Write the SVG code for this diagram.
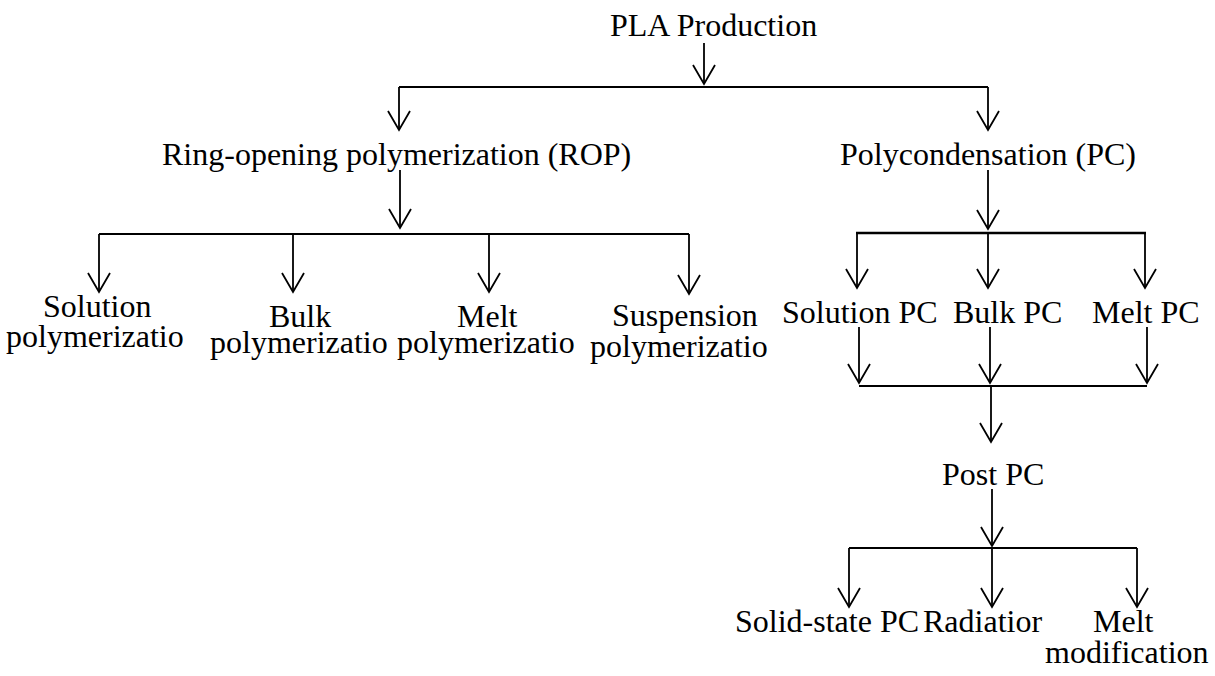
<svg xmlns="http://www.w3.org/2000/svg" width="1215" height="676" viewBox="0 0 1215 676">
<style>
text{font-family:"Liberation Serif","Times New Roman",serif;font-size:32px;fill:#000}
.ln{fill:none;stroke:#000;stroke-width:1.8}
.thick{stroke-width:2.6}
.ar{marker-end:url(#v)}
</style>
<defs>
<marker id="v" viewBox="-22 -13 24 26" refX="0" refY="0" markerWidth="24" markerHeight="26" markerUnits="userSpaceOnUse" orient="auto">
<path d="M-19,-11 L0,0 L-19,11" fill="none" stroke="#000" stroke-width="1.8"/>
</marker>
</defs>
<rect width="1215" height="676" fill="#fff"/>
<g id="connectors">
<path class="ln ar" d="M704,43 V84"/>
<path class="ln" d="M399,87 H988"/>
<path class="ln ar" d="M399,87 V130"/>
<path class="ln ar" d="M988,87 V130"/>
<path class="ln ar" d="M400,170 V228"/>
<path class="ln" d="M99,234 H689"/>
<path class="ln ar" d="M99,234 V292"/>
<path class="ln ar" d="M293,234 V292"/>
<path class="ln ar" d="M489,234 V292"/>
<path class="ln ar" d="M689,234 V294"/>
<path class="ln ar" d="M988,170 V229"/>
<path class="ln thick" d="M856,233 H1146"/>
<path class="ln ar" d="M857,233 V288"/>
<path class="ln ar" d="M988,233 V288"/>
<path class="ln ar" d="M1145,233 V288"/>
<path class="ln ar" d="M859,327 V383"/>
<path class="ln ar" d="M990,327 V383"/>
<path class="ln ar" d="M1147,327 V383"/>
<path class="ln" d="M859,386 H1147"/>
<path class="ln ar" d="M991,386 V442"/>
<path class="ln ar" d="M992,489 V546"/>
<path class="ln" d="M849,548 H1137"/>
<path class="ln ar" d="M849,548 V607"/>
<path class="ln ar" d="M992,548 V607"/>
<path class="ln ar" d="M1137,548 V607"/>
</g>
<g id="pla"><text x="610" y="36">PLA Production</text></g>
<g id="rop"><text x="162" y="165">Ring-opening polymerization (ROP)</text></g>
<g id="pc"><text x="840" y="165">Polycondensation (PC)</text></g>
<g id="solution"><text x="43" y="317">Solution</text><text x="6" y="347">polymerizatio</text></g>
<g id="bulk"><text x="269" y="327">Bulk</text><text x="210" y="353">polymerizatio</text></g>
<g id="melt"><text x="457" y="327">Melt</text><text x="397" y="353">polymerizatio</text></g>
<g id="suspension"><text x="612" y="326">Suspension</text><text x="590" y="357">polymerizatio</text></g>
<g id="solution-pc"><text x="782" y="323">Solution PC</text></g>
<g id="bulk-pc"><text x="953" y="323">Bulk PC</text></g>
<g id="melt-pc"><text x="1092" y="323">Melt PC</text></g>
<g id="post-pc"><text x="942" y="485">Post PC</text></g>
<g id="solid-state-pc"><text x="735" y="632">Solid-state PC</text></g>
<g id="radiation"><text x="923" y="632">Radiatior</text></g>
<g id="melt-modification"><text x="1093" y="632">Melt</text><text x="1045" y="663">modification</text></g>
</svg>
